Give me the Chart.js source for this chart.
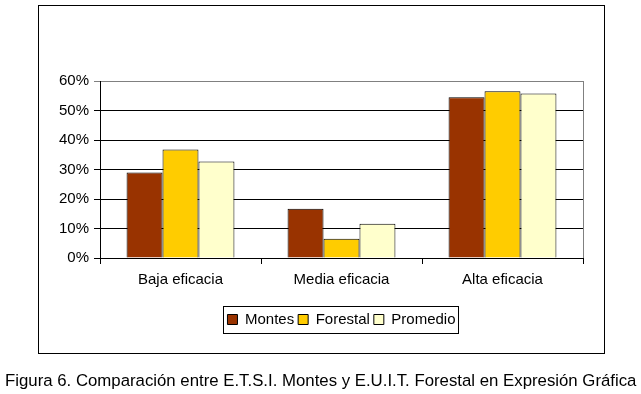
<!DOCTYPE html>
<html>
<head>
<meta charset="utf-8">
<script src="https://cdn.jsdelivr.net/npm/chart.js@4"></script>
<style>
  body { margin: 0; background: #fff; width: 641px; height: 394px; overflow: hidden; position: relative; font-family: "Liberation Sans", Arial, sans-serif; }
  #frame { position: absolute; left: 38px; top: 5px; width: 565px; height: 347px; border: 1px solid #000; }
  #grafico { position: absolute; left: 0; top: 0; }
  #caption { position: absolute; left: 5px; top: 371px; font-size: 16.8px; white-space: nowrap; color: #000; }
</style>
</head>
<body>
<div id="frame"></div>
<canvas id="grafico" width="641" height="394"></canvas>
<div id="caption">Figura 6. Comparación entre E.T.S.I. Montes y E.U.I.T. Forestal en Expresión Gráfica</div>
<script>
// Datos (porcentaje)
var categorias = ['Baja eficacia', 'Media eficacia', 'Alta eficacia'];
var montes = [29.0, 16.7, 54.5];
var forestal = [36.8, 6.5, 56.5];
var promedio = [32.7, 11.6, 55.8];
var ticksY = [0, 10, 20, 30, 40, 50, 60];

var fuente = { family: '"Liberation Sans", Arial, sans-serif', size: 15 };

// Centra la leyenda sobre el area de trazado
var centrarLeyenda = {
    id: 'centrarLeyenda',
    afterLayout: function (chart) {
        var l = chart.legend;
        var a = chart.chartArea;
        var d = ((a.left + a.right) - (l.left + l.right)) / 2;
        l.left = a.left;
        l.right = a.right;
        l.width = a.right - a.left;
        l.legendHitBoxes.forEach(function (h) { h.left += d; });
    }
};

// Dibuja el borde gris del area de trazado y el marco de la leyenda
var bordes = {
    id: 'bordes',
    afterDraw: function (chart) {
        var ctx = chart.ctx;
        var a = chart.chartArea;
        ctx.save();
        ctx.strokeStyle = '#808080';
        ctx.lineWidth = 1;
        ctx.beginPath();
        ctx.moveTo(Math.round(a.right) + 0.5, a.top);
        ctx.lineTo(Math.round(a.right) + 0.5, a.bottom);
        ctx.stroke();

        var cajas = chart.legend.legendHitBoxes;
        if (cajas && cajas.length) {
            var x0 = cajas[0].left - 4;
            var ult = cajas[cajas.length - 1];
            var x1 = ult.left + ult.width + 3;
            var y0 = cajas[0].top - 6;
            var y1 = cajas[0].top + cajas[0].height + 6;
            ctx.strokeStyle = '#000';
            ctx.strokeRect(Math.round(x0) + 0.5, Math.round(y0) + 0.5, Math.round(x1 - x0), Math.round(y1 - y0));
        }
        ctx.restore();
    }
};

new Chart(document.getElementById('grafico'), {
    type: 'bar',
    data: {
        labels: categorias,
        datasets: [
            { label: 'Montes', data: montes, backgroundColor: '#993300', borderColor: '#000', borderWidth: 1 },
            { label: 'Forestal', data: forestal, backgroundColor: '#FFCC00', borderColor: '#000', borderWidth: 1 },
            { label: 'Promedio', data: promedio, backgroundColor: '#FFFFCC', borderColor: '#000', borderWidth: 1 }
        ]
    },
    options: {
        responsive: false,
        animation: false,
        devicePixelRatio: 1,
        layout: { padding: { left: 0, right: 58, top: 81, bottom: 57 } },
        datasets: { bar: { barPercentage: 1, categoryPercentage: 0.67 } },
        plugins: {
            legend: {
                position: 'bottom',
                labels: {
                    font: fuente,
                    color: '#000',
                    boxWidth: 10,
                    boxHeight: 10,
                    padding: 4
                }
            },
            tooltip: { enabled: false }
        },
        scales: {
            x: {
                grid: { drawOnChartArea: false, drawTicks: true, tickLength: 6, color: '#000' },
                border: { color: '#000' },
                ticks: { font: fuente, color: '#000', padding: 7 },
                afterFit: function (s) { s.height = 50; }
            },
            y: {
                min: 0,
                max: 60,
                afterBuildTicks: function (s) { s.ticks = ticksY.map(function (v) { return { value: v }; }); },
                grid: {
                    color: function (c) { return c.tick && c.tick.value === 60 ? '#808080' : '#000'; },
                    tickLength: 6
                },
                border: { color: '#000' },
                ticks: {
                    font: fuente,
                    color: '#000',
                    padding: 5,
                    callback: function (v) { return v + '%'; }
                },
                afterFit: function (s) { s.width = 100; }
            }
        }
    },
    plugins: [centrarLeyenda, bordes]
});
</script>
</body>
</html>
